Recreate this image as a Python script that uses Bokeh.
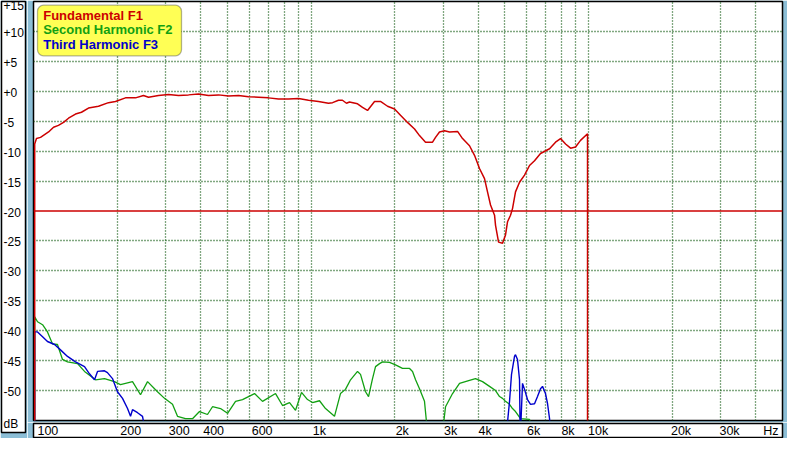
import numpy as np
from bokeh.plotting import figure
from bokeh.layouts import row, column
from bokeh.models import Range1d, FixedTicker, Span, BoxAnnotation
from bokeh.core.properties import value
from bokeh.embed import file_html
from bokeh.resources import INLINE

# ---------------- data (Hz, dB) ----------------
f1_freq = [101, 101, 102.5, 106, 113.3, 118.1, 123, 128.3, 133.7, 141.7,
           148.9, 157.8, 171.5, 186.3, 197.4, 214.5, 233.1, 249.1, 259.7, 282.1,
           306.6, 333.1, 361.9, 393.1, 427.2, 464.2, 504.5, 548.1, 595.4, 646.9,
           702.9, 763.8, 829.8, 901.6, 979.5, 1064, 1156, 1196, 1256, 1298,
           1342, 1376, 1471, 1533, 1598, 1694, 1780, 1887, 2000, 2101,
           2227, 2361, 2460, 2586, 2741, 2810, 2904, 3028, 3156, 3373,
           3516, 3725, 3883, 4047, 4219, 4325, 4435, 4585, 4623, 4740,
           4899, 5022, 5106, 5235, 5322, 5456, 5641, 5880, 6129, 6389,
           6714, 7237, 7605, 7929, 8265, 8614, 8979, 9358, 9918, 9918]
f1_db = [-57, -8.8, -7.9, -7.7, -6.8, -6.0, -5.7, -5.2, -4.5, -3.8,
         -3.5, -2.8, -2.5, -1.9, -1.7, -1.1, -1.1, -0.7, -1.0, -0.7,
         -0.55, -0.7, -0.6, -0.45, -0.7, -0.6, -0.8, -0.7, -0.9, -1.0,
         -1.1, -1.3, -1.3, -1.2, -1.5, -1.7, -2.0, -1.9, -1.5, -1.5,
         -2.0, -1.8, -2.1, -2.7, -3.2, -1.7, -1.7, -2.5, -2.95, -4.0,
         -5.2, -6.3, -7.4, -8.5, -8.5, -7.7, -6.8, -6.6, -6.8, -6.7,
         -7.9, -9.1, -10.7, -12.9, -14.6, -16.8, -19.0, -20.7, -22.4, -25.2,
         -25.4, -24.0, -21.8, -20.7, -19.6, -16.8, -15.2, -14.0, -12.4, -11.6,
         -10.4, -9.6, -8.5, -7.9, -8.8, -9.5, -9.3, -8.2, -7.1, -57]

f2_freq = [101, 101, 103.4, 107.8, 112.3, 117.1, 122.0, 127.2, 132.6, 144.1,
           152.7, 167.3, 180.2, 195.8, 205.8, 218.2, 227.4, 243.0, 257.6, 279.8,
           296.6, 316.9, 330.3, 352.9, 374.1, 396.4, 423.6, 441.6, 472.0, 500.3,
           534.6, 566.6, 625.8, 668.7, 745.0, 789.5, 836.8, 879.5, 924.3, 971.4,
           1012.5, 1073, 1128, 1215, 1277, 1331, 1388, 1471, 1508, 1572,
           1612, 1666, 1708, 1766, 1810, 1918, 2016, 2136, 2265, 2322,
           2381, 2460, 2564, 2629, 2978, 3053, 3236, 3429, 3725, 3915,
           4150, 4398, 4623, 4779, 4899, 5022, 5192, 5322, 5456, 5688,
           6129, 6283]
f2_db = [-57, -37.7, -38.5, -39.0, -40.2, -42.2, -42.3, -44.8, -45.2, -45.5,
         -46.8, -48.2, -48.0, -48.5, -49.0, -48.7, -48.5, -50.7, -48.5, -50.2,
         -51.3, -52.3, -54.3, -54.7, -54.7, -53.5, -54.0, -52.7, -53.0, -53.8,
         -51.8, -51.5, -50.5, -51.8, -50.5, -52.5, -52.0, -53.3, -50.3, -51.5,
         -52.0, -51.7, -53.0, -54.3, -50.5, -49.8, -48.2, -46.8, -47.3, -50.2,
         -51.0, -48.0, -46.0, -45.5, -45.2, -45.3, -45.7, -46.3, -46.3, -46.8,
         -48.2, -49.7, -51.8, -57, -57, -52.7, -50.5, -48.8, -48.3, -48.0,
         -48.5, -49.3, -50.0, -51.0, -51.3, -51.8, -52.3, -53.0, -53.5, -54.7,
         -54.8, -57]

f3_freq = [101, 101, 103.4, 107.8, 112.3, 119.1, 125.1, 132.6, 141.7, 152.7,
           159.1, 165.9, 170.1, 180.2, 184.7, 192.6, 200.7, 209.3, 218.2, 223.7,
           227.4, 237.1, 247.1, 253.3, 5064, 5192, 5278, 5411, 5456, 5547,
           5641, 5670, 5688, 5783, 5880, 6028, 6180, 6389, 6549, 6714,
           6827, 6998, 7118, 7237, 7298]
f3_db = [-57, -40.2, -40.2, -41.0, -41.8, -42.3, -43.2, -44.3, -45.2, -46.0,
         -47.2, -48.2, -46.8, -46.7, -47.0, -48.0, -50.2, -51.3, -53.0, -54.3,
         -53.2, -53.7, -54.3, -57, -57, -51.8, -47.3, -44.3, -44.0, -44.8,
         -48.2, -57, -57, -48.8, -49.8, -51.5, -52.3, -52.2, -51.0, -49.7,
         -49.3, -50.5, -52.2, -54.7, -57]

reference_level_db = -20

y_tick_values = [15, 10, 5, 0, -5, -10, -15, -20, -25, -30, -35, -40, -45, -50]
y_tick_labels = ["+15", "+10", "+5", "+0", "-5", "-10", "-15", "-20", "-25",
                 "-30", "-35", "-40", "-45", "-50"]
y_unit_label = "dB"
y_grid_values = [10, 5, 0, -5, -10, -15, -25, -30, -35, -40, -45, -50]

x_tick_values = [100, 200, 300, 400, 600, 1000, 2000, 3000, 4000, 6000, 8000,
                 10000, 20000, 30000]
x_tick_labels = ["100", "200", "300", "400", "600", "1k", "2k", "3k", "4k",
                 "6k", "8k", "10k", "20k", "30k"]
x_unit_label = "Hz"
x_grid_values = [200, 300, 400, 500, 600, 700, 800, 900,
                 1000, 2000, 3000, 4000, 5000, 6000, 7000, 8000, 9000,
                 10000, 20000, 30000, 40000]

legend_labels = ["Fundamental F1", "Second Harmonic F2", "Third Harmonic F3"]

# ---------------- style ----------------
X_MIN, X_MAX = 100, 50000
Y_MIN, Y_MAX = -55, 15
BG = "#8CBED6"
RED = "#CC0000"
GREEN = "#12A012"
BLUE = "#0000CC"
GRID = "#004E00"
YELLOW = "#FFFF55"
FONT = "Liberation Sans"
series_colors = [RED, GREEN, BLUE]

TOTAL_W, TOTAL_H = 787, 438
WY = 27                       # width of left label panel
WM = TOTAL_W - WY             # width of right column
FRAME_W, FRAME_H = 749, 419
MAIN_L, MAIN_R, MAIN_T, MAIN_B = 6, 5, 1, 2
MAIN_H = MAIN_T + FRAME_H + MAIN_B
XL_H = TOTAL_H - MAIN_H

ppdec = FRAME_W / np.log10(X_MAX / X_MIN)      # px per decade
ppd = FRAME_H / (Y_MAX - Y_MIN)                # px per dB


def x_at(px):
    return X_MIN * 10 ** (px / ppdec)


def y_at(px):
    return Y_MAX - px / ppd


# ---------------- main plot ----------------
p = figure(width=WM, height=MAIN_H, x_axis_type="log",
           x_range=Range1d(X_MIN, X_MAX), y_range=Range1d(Y_MIN, Y_MAX),
           x_axis_location=None, y_axis_location=None, title=None,
           toolbar_location=None, output_backend="svg",
           min_border_left=MAIN_L, min_border_right=MAIN_R,
           min_border_top=MAIN_T, min_border_bottom=MAIN_B)
p.background_fill_color = "white"
p.border_fill_color = BG
p.outline_line_color = "black"
p.outline_line_width = 1.5

p.xgrid.ticker = FixedTicker(ticks=x_grid_values)
p.ygrid.ticker = FixedTicker(ticks=y_grid_values)
for g in (p.xgrid, p.ygrid):
    g.grid_line_color = GRID
    g.grid_line_dash = "1 2"
    g.grid_line_width = 1.3
    g.grid_line_alpha = 1

p.add_layout(Span(location=reference_level_db, dimension="width",
                  line_color=RED, line_width=1.3, level="underlay"))

p.line(f2_freq, f2_db, line_color=GREEN, line_width=1.3)
p.line(f3_freq, f3_db, line_color=BLUE, line_width=1.4)
p.line(f1_freq, f1_db, line_color=RED, line_width=1.5)

# legend box
p.add_layout(BoxAnnotation(left=x_at(4), right=x_at(148),
                           top=y_at(3.7), bottom=y_at(54.3),
                           fill_color=YELLOW, fill_alpha=1,
                           line_color="black", line_width=1.3,
                           border_radius=6))
leg = p.text(x=[x_at(9.7)] * 3, y=[y_at(13.7), y_at(27.7), y_at(43)],
             text=legend_labels, text_color=series_colors,
             text_font=value(FONT), text_font_style="bold",
             text_font_size="13px", text_baseline="middle", text_align="left")
leg.level = "overlay"

# ---------------- x label panel ----------------
XL_L, XL_R, XL_T, XL_B = 1, 4, 1, 1
off_l = MAIN_L - XL_L
off_r = (WM - XL_R) - (WM - MAIN_R)
px_ = figure(width=WM, height=XL_H, x_axis_type="log",
             x_range=Range1d(x_at(-off_l), x_at(FRAME_W + off_r)),
             y_range=Range1d(0, 1),
             x_axis_location=None, y_axis_location=None, title=None,
             toolbar_location=None, output_backend="svg",
             min_border_left=XL_L, min_border_right=XL_R,
             min_border_top=XL_T, min_border_bottom=XL_B)
px_.background_fill_color = "white"
px_.border_fill_color = BG
px_.outline_line_color = "black"
px_.outline_line_width = 1.5
px_.grid.visible = False
px_.text(x=x_tick_values, y=[0.5] * len(x_tick_values), text=x_tick_labels,
         text_font=value(FONT), text_font_size="12.5px", text_color="black",
         text_baseline="middle", text_align="left", x_offset=-1)
px_.text(x=[X_MAX], y=[0.5], text=[x_unit_label],
         text_font=value(FONT), text_font_size="12.5px", text_color="black",
         text_baseline="middle", text_align="right", x_offset=-3)

# ---------------- y label panel ----------------
YL_L, YL_R, YL_T, YL_B = 1, 2, 1, 6
YL_FW = WY - YL_L - YL_R
extra_bottom = (TOTAL_H - YL_B) - (MAIN_T + FRAME_H)
py = figure(width=WY, height=TOTAL_H,
            x_range=Range1d(0, 1), y_range=Range1d(y_at(FRAME_H + extra_bottom), Y_MAX),
            x_axis_location=None, y_axis_location=None, title=None,
            toolbar_location=None, output_backend="svg",
            min_border_left=YL_L, min_border_right=YL_R,
            min_border_top=YL_T, min_border_bottom=YL_B)
py.background_fill_color = "white"
py.border_fill_color = BG
py.outline_line_color = "black"
py.outline_line_width = 1.5
py.grid.visible = False
y_offsets = [4 if v == Y_MAX else 1 for v in y_tick_values]
py.text(x=[2 / YL_FW] * len(y_tick_values), y=y_tick_values, text=y_tick_labels,
        y_offset=y_offsets, text_font=value(FONT), text_font_size="12px",
        text_color="black", text_baseline="middle", text_align="left")
py.text(x=[2 / YL_FW], y=[Y_MIN], text=[y_unit_label], y_offset=3,
        text_font=value(FONT), text_font_size="12px",
        text_color="black", text_baseline="middle", text_align="left")

layout = row(py, column(p, px_))

open("out.html", "w").write(file_html(layout, INLINE))
